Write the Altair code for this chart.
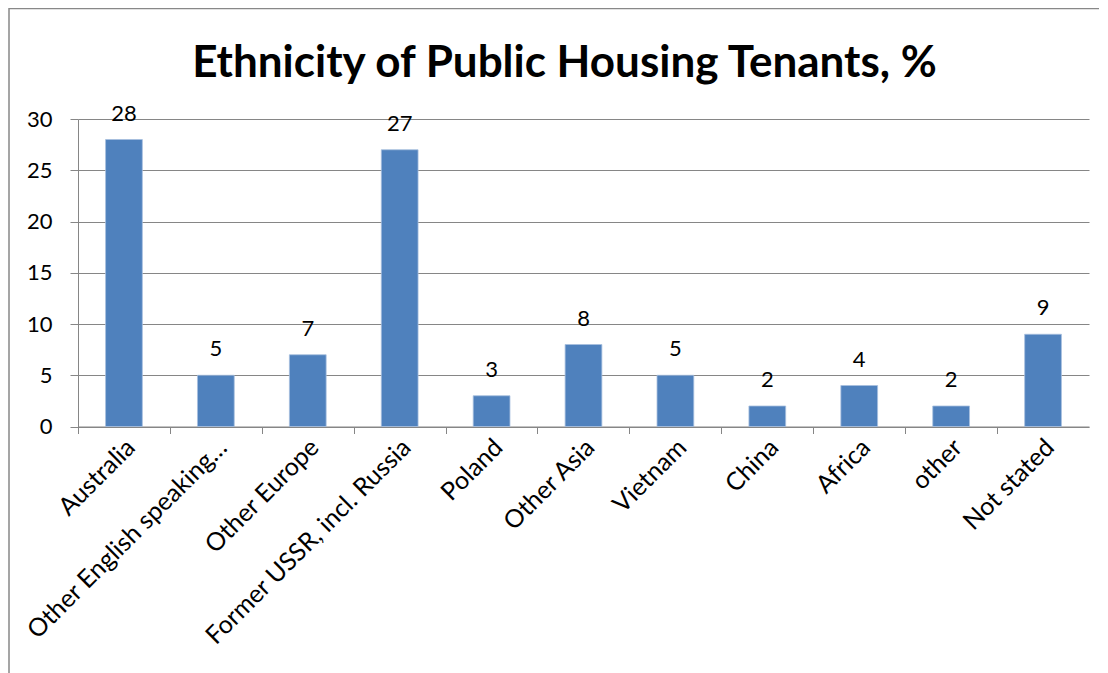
import altair as alt
import pandas as pd

categories = ["Australia", "Other English speaking\u2026", "Other Europe",
              "Former USSR, incl. Russia", "Poland", "Other Asia", "Vietnam",
              "China", "Africa", "other", "Not stated"]
values = [28, 5, 7, 27, 3, 8, 5, 2, 4, 2, 9]
y_ticks = [0, 5, 10, 15, 20, 25, 30]
title_text = "Ethnicity of Public Housing Tenants, %"

df = pd.DataFrame({"cat": categories, "val": values})

FONT = "Lato"
GRID = "#868686"

x_enc = alt.X("cat:N", sort=categories, title=None,
              scale=alt.Scale(paddingInner=0.6, paddingOuter=0.3),
              axis=alt.Axis(labelAngle=-45, labelFont=FONT, labelFontSize=25,
                            labelColor="black", labelPadding=1,
                            tickSize=7, tickOffset=-46, labelOffset=44,
                            tickColor=GRID, domainColor=GRID, labelLimit=400))
y_enc = alt.Y("val:Q", title=None,
              scale=alt.Scale(domain=[0, 30], nice=False),
              axis=alt.Axis(values=y_ticks, labelFont=FONT, labelFontSize=22,
                            labelColor="black", labelPadding=18, tickSize=8,
                            tickColor=GRID, domainColor=GRID, gridColor=GRID,
                            gridOpacity=1))

base = alt.Chart(df)
bars = base.mark_bar(color="#4F81BD", stroke="#A7BFDE", strokeWidth=0.8).encode(x=x_enc, y=y_enc)
labels = base.mark_text(font=FONT, fontSize=22, baseline="alphabetic", dy=-19,
                        color="black").encode(
    x=alt.X("cat:N", sort=categories), y="val:Q", text="val:Q")

frame = alt.Chart(pd.DataFrame({"f": [0]})).mark_rect(
    fill=None, stroke="#888888", strokeWidth=1.5).encode(
    x=alt.value(-69), x2=alt.value(1100), y=alt.value(-110.5), y2=alt.value(700))

chart = alt.layer(frame, bars, labels).properties(
    width=1011, height=307.5,
    title=alt.TitleParams(title_text, font=FONT, fontSize=44, fontWeight="bold",
                          color="black", anchor="middle", baseline="alphabetic",
                          dx=-19, dy=113, offset=0),
    autosize=alt.AutoSizeParams(type="none"),
    padding={"left": 70, "top": 111, "right": 10, "bottom": 246},
).configure_view(stroke=None)

chart.save("out.html", embed_options={"renderer": "svg", "actions": False})
